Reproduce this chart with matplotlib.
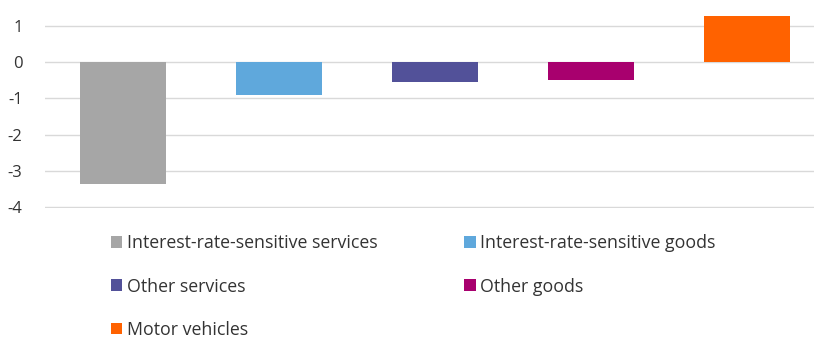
import matplotlib
matplotlib.use("Agg")
import matplotlib.pyplot as plt

categories = ["Interest-rate-sensitive services", "Interest-rate-sensitive goods",
              "Other services", "Other goods", "Motor vehicles"]
values = [-3.36, -0.91, -0.55, -0.5, 1.28]
colors = ["#a6a6a6", "#5fa8dc", "#525199", "#a8006e", "#ff6200"]
yticks = [-4, -3, -2, -1, 0, 1]

plt.rcParams['font.family'] = ['Open Sans', 'DejaVu Sans']

fig = plt.figure(figsize=(8.14, 3.4), dpi=100)
ax = fig.add_axes([0.055, 0.388, 0.945, 0.589])

bars = []
for i, (cat, v, c) in enumerate(zip(categories, values, colors)):
    b = ax.bar(i, v, width=0.55, color=c, label=cat, zorder=3)
    bars.append(b)

ax.set_xlim(-0.5, 4.43)
ax.set_ylim(-4.03, 1.5)
ax.set_yticks(yticks)
ax.set_yticklabels([str(t) for t in yticks], fontsize=12, color="#333333")
ax.set_xticks([])
ax.tick_params(axis='y', length=0, pad=16)
ax.grid(axis='y', color="#d9d9d9", linewidth=1, zorder=0)
for s in ax.spines.values():
    s.set_visible(False)

# legend: row-major look with ncol=2 (column-first fill)
order = [0, 2, 4, 1, 3]
fig.legend([bars[i] for i in order], [categories[i] for i in order],
           ncol=2, loc='upper left', bbox_to_anchor=(0.136, 0.311),
           frameon=False, fontsize=12.8, handlelength=0.65, handleheight=0.65,
           handletextpad=0.25, columnspacing=4.9, labelspacing=1.42,
           borderpad=0, borderaxespad=0, labelcolor="#333333")

fig.savefig("out.png", dpi=100)
